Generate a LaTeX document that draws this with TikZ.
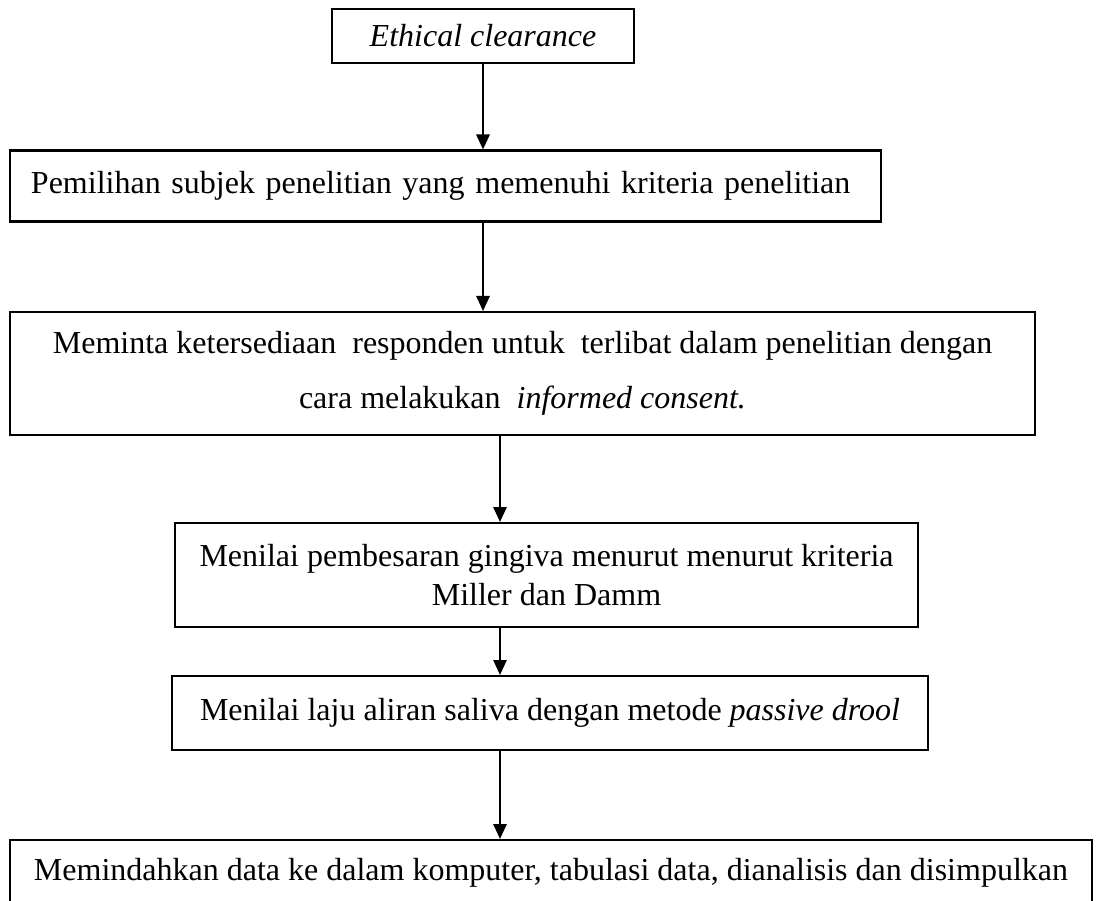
\documentclass[tikz,border=0pt]{standalone}
\usepackage{fontspec}
\setmainfont{Liberation Serif}
\usetikzlibrary{arrows.meta}

\begin{document}
\begin{tikzpicture}[
  x=0.375pt, y=-0.375pt,
  every node/.style={
    draw,
    line width=0.8pt,
    inner sep=0pt,
    font=\fontsize{12}{14.4}\selectfont,
  },
  flowbox/.style 2 args={
    minimum width=#1*0.375pt,
    minimum height=#2*0.375pt,
  },
  flowarrow/.style={
    -{Triangle[length=5.6pt, width=5pt]},
    line width=0.75pt,
  }
]
\useasboundingbox (0,0) rectangle (1098,901);
\clip (0,0) rectangle (1098,901);

\node[flowbox={302}{54}] (ethic) at (483,36) {\textit{Ethical clearance}};

\node[flowbox={871}{71}, text width=310.9pt, align=left] (pilih) at (445.5,186) {
  Pemilihan subjek penelitian yang memenuhi kriteria penelitian
};

\node[flowbox={1025}{123}, align=center, font=\fontsize{12}{20.6}\selectfont] (minta) at (522.5,373.5) {
  Meminta ketersediaan\ \ responden untuk\ \ terlibat dalam penelitian dengan\\
  cara melakukan\ \ \textit{informed consent.}
};

\node[flowbox={743}{104}, align=center] (nilai) at (546.5,575) {
  Menilai pembesaran gingiva menurut menurut kriteria\\
  Miller dan Damm
};

\node[flowbox={756}{74}] (saliva) at (550,713) {
  Menilai laju aliran saliva dengan metode \textit{passive drool}
};

\node[flowbox={1082}{66}] (data) at (551,873) {
  Memindahkan data ke dalam komputer, tabulasi data, dianalisis dan disimpulkan
};

% arrows
\coordinate (spine) at (500,0);
\draw[flowarrow] (ethic) -- (ethic.south |- pilih.north);
\draw[flowarrow] (ethic.south |- pilih.south) -- (ethic.south |- minta.north);
\draw[flowarrow] (spine |- minta.south) -- (spine |- nilai.north);
\draw[flowarrow] (spine |- nilai.south) -- (spine |- saliva.north);
\draw[flowarrow] (spine |- saliva.south) -- (spine |- data.north);

\end{tikzpicture}
\end{document}
